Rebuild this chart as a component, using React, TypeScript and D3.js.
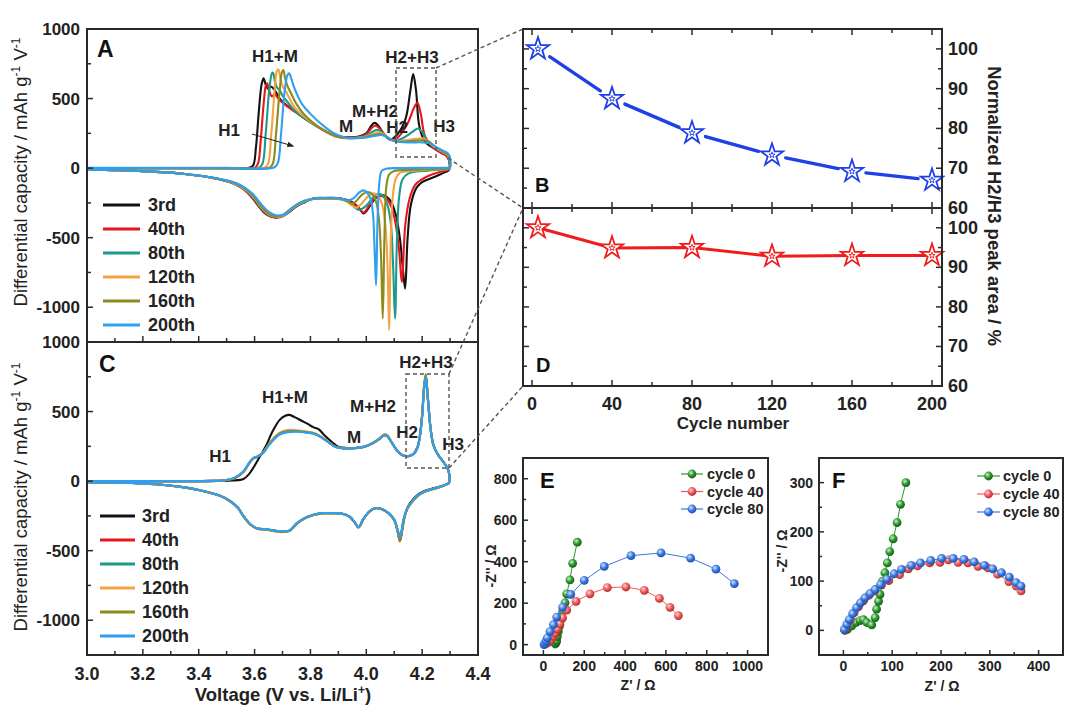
import React from "react";
import * as d3 from "d3";

type P = [number, number];
const FONT = "'Liberation Sans', Arial, Helvetica, sans-serif";
const INK = "#222";
const FRAME = "#2a2a2a";

// ================= Panels A & C : dQ/dV =================
const CYCLE_NAMES = ["3rd", "40th", "80th", "120th", "160th", "200th"];
const CYCLE_COLORS = ["#121212", "#e8161c", "#1b9a8b", "#f5a243", "#8b8b1e", "#2e9ff3"];
const VOLT_TICKS = [3.0, 3.2, 3.4, 3.6, 3.8, 4.0, 4.2, 4.4];
const VOLT_MINOR = [3.1, 3.3, 3.5, 3.7, 3.9, 4.1, 4.3];
const DQDV_TICKS = [1000, 500, 0, -500, -1000];
const DQDV_MINOR = [750, 250, -250, -750];

// ---- Panel A (charge = upper branch, discharge = lower branch) ----
const A_CHG_3RD: P[] = [[3.0,0],[3.3,0],[3.5,0],[3.58,2],[3.595,20],[3.605,150],[3.615,400],[3.625,600],[3.632,645],[3.64,600],[3.648,570],[3.66,585],[3.672,560],[3.69,500],[3.71,460],[3.75,400],[3.8,330],[3.85,270],[3.89,232],[3.93,222],[3.97,225],[4.0,250],[4.02,310],[4.03,325],[4.045,300],[4.065,240],[4.085,205],[4.11,240],[4.14,350],[4.158,560],[4.168,676],[4.178,560],[4.19,300],[4.21,190],[4.24,145],[4.27,110],[4.29,85],[4.297,50],[4.298,0]];
const A_DIS_3RD: P[] = [[4.295,-15],[4.27,-40],[4.23,-75],[4.2,-100],[4.18,-140],[4.16,-260],[4.148,-500],[4.139,-866],[4.13,-700],[4.12,-500],[4.105,-330],[4.085,-230],[4.06,-195],[4.04,-205],[4.02,-250],[4.0,-310],[3.99,-326],[3.975,-290],[3.95,-245],[3.91,-218],[3.86,-215],[3.81,-218],[3.78,-245],[3.75,-275],[3.72,-320],[3.69,-350],[3.665,-352],[3.64,-330],[3.615,-275],[3.59,-210],[3.56,-150],[3.51,-100],[3.45,-70],[3.35,-42],[3.2,-22],[3.0,-10]];
const A_CHG_40TH: P[] = [[3.0,0],[3.3,0],[3.5,0],[3.6,2],[3.612,30],[3.622,200],[3.632,450],[3.64,590],[3.645,609],[3.652,560],[3.662,515],[3.672,530],[3.685,500],[3.7,470],[3.72,440],[3.75,398],[3.8,328],[3.85,268],[3.89,230],[3.93,220],[3.97,222],[4.0,245],[4.02,290],[4.032,305],[4.048,285],[4.07,230],[4.095,200],[4.12,235],[4.15,330],[4.17,430],[4.183,470],[4.195,390],[4.21,230],[4.235,155],[4.26,118],[4.285,90],[4.297,55],[4.298,0]];
const A_DIS_40TH: P[] = [[4.295,-10],[4.26,-30],[4.23,-50],[4.2,-80],[4.175,-120],[4.155,-220],[4.14,-400],[4.127,-818],[4.118,-600],[4.105,-400],[4.09,-280],[4.07,-215],[4.05,-200],[4.03,-215],[4.01,-270],[3.99,-320],[3.975,-295],[3.95,-250],[3.91,-222],[3.86,-218],[3.81,-220],[3.78,-240],[3.75,-272],[3.72,-322],[3.695,-352],[3.67,-355],[3.645,-335],[3.62,-285],[3.595,-220],[3.565,-158],[3.52,-105],[3.45,-70],[3.35,-42],[3.2,-22],[3.0,-10]];
const A_CHG_80TH: P[] = [[3.0,0],[3.3,0],[3.5,0],[3.615,2],[3.628,30],[3.64,250],[3.652,550],[3.662,680],[3.666,686],[3.672,630],[3.68,580],[3.69,560],[3.7,520],[3.72,470],[3.75,400],[3.8,330],[3.85,268],[3.89,228],[3.93,218],[3.97,220],[4.0,235],[4.025,265],[4.04,275],[4.055,260],[4.075,220],[4.1,195],[4.13,215],[4.165,260],[4.185,285],[4.2,260],[4.22,190],[4.25,145],[4.275,115],[4.292,90],[4.298,55],[4.299,0]];
const A_DIS_80TH: P[] = [[4.297,-5],[4.26,-12],[4.22,-18],[4.18,-25],[4.15,-40],[4.13,-80],[4.118,-200],[4.11,-500],[4.103,-1081],[4.096,-700],[4.088,-400],[4.075,-260],[4.06,-200],[4.045,-185],[4.025,-210],[4.0,-270],[3.975,-300],[3.96,-285],[3.94,-248],[3.91,-225],[3.86,-218],[3.81,-222],[3.78,-242],[3.75,-270],[3.72,-318],[3.7,-345],[3.675,-350],[3.65,-335],[3.625,-290],[3.6,-225],[3.57,-160],[3.52,-105],[3.45,-70],[3.35,-42],[3.2,-22],[3.0,-10]];
const A_CHG_120TH: P[] = [[3.0,0],[3.3,0],[3.5,0],[3.635,2],[3.648,30],[3.66,250],[3.672,560],[3.68,700],[3.685,710],[3.692,650],[3.7,590],[3.71,560],[3.725,500],[3.75,420],[3.8,335],[3.85,270],[3.89,228],[3.93,216],[3.97,218],[4.0,228],[4.03,250],[4.045,258],[4.06,245],[4.08,215],[4.105,192],[4.14,200],[4.18,210],[4.205,213],[4.22,195],[4.245,150],[4.27,120],[4.29,95],[4.298,60],[4.299,0]];
const A_DIS_120TH: P[] = [[4.297,-5],[4.25,-10],[4.2,-15],[4.15,-22],[4.12,-35],[4.105,-80],[4.095,-200],[4.088,-500],[4.082,-1165],[4.076,-700],[4.068,-400],[4.055,-250],[4.04,-195],[4.025,-182],[4.005,-205],[3.985,-250],[3.965,-285],[3.95,-270],[3.93,-240],[3.9,-222],[3.86,-216],[3.81,-220],[3.78,-238],[3.75,-268],[3.72,-315],[3.7,-342],[3.68,-350],[3.655,-338],[3.63,-295],[3.605,-230],[3.575,-165],[3.52,-104],[3.45,-70],[3.35,-42],[3.2,-22],[3.0,-10]];
const A_CHG_160TH: P[] = [[3.0,0],[3.3,0],[3.5,0],[3.652,2],[3.665,30],[3.677,250],[3.69,560],[3.698,690],[3.703,705],[3.71,640],[3.718,590],[3.73,540],[3.75,460],[3.78,380],[3.82,310],[3.86,258],[3.9,224],[3.93,215],[3.97,216],[4.0,224],[4.035,242],[4.05,245],[4.065,235],[4.085,210],[4.11,190],[4.15,192],[4.19,198],[4.21,200],[4.225,190],[4.25,150],[4.275,118],[4.292,95],[4.298,60],[4.299,0]];
const A_DIS_160TH: P[] = [[4.297,-5],[4.25,-8],[4.2,-10],[4.15,-14],[4.1,-20],[4.082,-45],[4.072,-130],[4.065,-500],[4.059,-1081],[4.053,-650],[4.046,-380],[4.035,-240],[4.02,-185],[4.005,-172],[3.985,-190],[3.965,-235],[3.95,-255],[3.935,-240],[3.91,-222],[3.87,-215],[3.82,-218],[3.78,-235],[3.75,-262],[3.72,-308],[3.7,-338],[3.68,-347],[3.66,-340],[3.635,-300],[3.61,-238],[3.58,-170],[3.53,-108],[3.45,-70],[3.35,-42],[3.2,-22],[3.0,-10]];
const A_CHG_200TH: P[] = [[3.0,2],[3.3,2],[3.5,3],[3.67,4],[3.683,35],[3.695,250],[3.708,560],[3.718,670],[3.724,681],[3.732,640],[3.74,590],[3.75,540],[3.77,460],[3.8,390],[3.84,315],[3.88,255],[3.92,222],[3.96,215],[4.0,220],[4.04,235],[4.055,238],[4.07,228],[4.09,205],[4.12,188],[4.16,185],[4.2,185],[4.225,178],[4.25,150],[4.275,125],[4.29,110],[4.3,80],[4.302,30],[4.3,3]];
const A_DIS_200TH: P[] = [[4.29,2],[4.2,2],[4.12,0],[4.07,-5],[4.055,-20],[4.047,-100],[4.04,-400],[4.035,-842],[4.03,-600],[4.024,-330],[4.015,-220],[4.0,-170],[3.99,-160],[3.975,-175],[3.955,-215],[3.935,-232],[3.915,-222],[3.88,-212],[3.83,-215],[3.79,-228],[3.76,-252],[3.73,-295],[3.71,-330],[3.69,-340],[3.67,-335],[3.645,-305],[3.62,-250],[3.59,-180],[3.54,-112],[3.46,-72],[3.35,-42],[3.2,-22],[3.0,-10]];

// ---- Panel C ----
const C_CHG_3RD: P[] = [[3.0,0],[3.3,0],[3.45,0],[3.52,4],[3.56,15],[3.58,50],[3.6,110],[3.62,180],[3.64,250],[3.665,360],[3.69,440],[3.71,470],[3.725,476],[3.745,458],[3.77,432],[3.79,412],[3.81,388],[3.83,372],[3.85,330],[3.875,285],[3.9,247],[3.93,238],[3.96,238],[3.99,246],[4.02,268],[4.045,300],[4.065,330],[4.075,324],[4.09,280],[4.11,220],[4.13,186],[4.15,179],[4.17,196],[4.185,252],[4.198,425],[4.207,665],[4.213,752],[4.22,600],[4.23,380],[4.24,262],[4.255,196],[4.275,142],[4.29,96],[4.297,50],[4.298,0]];
const C_DIS_3RD: P[] = [[4.295,-15],[4.285,-24],[4.265,-38],[4.24,-52],[4.215,-66],[4.19,-90],[4.168,-130],[4.15,-180],[4.138,-250],[4.128,-360],[4.122,-420],[4.114,-365],[4.1,-278],[4.08,-232],[4.055,-200],[4.03,-195],[4.01,-220],[3.99,-272],[3.972,-332],[3.96,-300],[3.94,-255],[3.91,-233],[3.87,-231],[3.84,-230],[3.81,-243],[3.78,-266],[3.75,-306],[3.725,-356],[3.7,-362],[3.67,-356],[3.64,-346],[3.61,-340],[3.585,-312],[3.56,-252],[3.54,-190],[3.51,-140],[3.48,-108],[3.43,-78],[3.35,-45],[3.25,-22],[3.1,-10],[3.0,-7]];
const C_CHG_40TH: P[] = [[3.0,0],[3.3,0],[3.45,2],[3.5,7],[3.53,22],[3.56,65],[3.58,125],[3.595,162],[3.61,175],[3.63,205],[3.65,262],[3.67,310],[3.69,345],[3.72,365],[3.75,362],[3.78,356],[3.81,345],[3.83,328],[3.86,288],[3.89,247],[3.92,236],[3.96,238],[3.99,246],[4.02,270],[4.045,303],[4.065,334],[4.075,328],[4.09,282],[4.11,222],[4.13,186],[4.15,180],[4.17,198],[4.185,255],[4.198,430],[4.207,680],[4.213,762],[4.22,610],[4.23,385],[4.24,262],[4.255,196],[4.275,140],[4.29,95],[4.297,50],[4.298,0]];
const C_DIS_40TH: P[] = [[4.295,-15],[4.285,-25],[4.265,-42],[4.24,-57],[4.215,-72],[4.19,-98],[4.168,-140],[4.148,-195],[4.135,-270],[4.125,-390],[4.12,-432],[4.112,-362],[4.1,-280],[4.08,-232],[4.055,-202],[4.03,-196],[4.01,-222],[3.99,-272],[3.972,-334],[3.96,-302],[3.94,-256],[3.91,-233],[3.87,-231],[3.84,-232],[3.81,-244],[3.78,-268],[3.75,-308],[3.725,-358],[3.7,-366],[3.67,-358],[3.64,-348],[3.61,-342],[3.585,-312],[3.56,-252],[3.54,-192],[3.51,-142],[3.48,-109],[3.43,-78],[3.35,-45],[3.25,-22],[3.1,-10],[3.0,-7]];
const C_CHG_80TH: P[] = [[3.0,0],[3.3,0],[3.45,2],[3.5,8],[3.53,24],[3.56,68],[3.58,128],[3.595,164],[3.61,176],[3.63,203],[3.65,258],[3.67,305],[3.69,340],[3.72,358],[3.75,358],[3.78,352],[3.81,343],[3.83,326],[3.86,286],[3.89,246],[3.92,235],[3.96,237],[3.99,245],[4.02,269],[4.045,301],[4.065,332],[4.075,326],[4.09,281],[4.11,221],[4.13,185],[4.15,179],[4.17,196],[4.185,252],[4.198,425],[4.207,670],[4.213,756],[4.22,605],[4.23,382],[4.24,261],[4.255,195],[4.275,140],[4.29,95],[4.297,50],[4.298,0]];
const C_DIS_80TH: P[] = [[4.295,-15],[4.285,-25],[4.265,-41],[4.24,-56],[4.215,-71],[4.19,-96],[4.168,-138],[4.148,-192],[4.135,-265],[4.125,-380],[4.12,-418],[4.112,-356],[4.1,-278],[4.08,-231],[4.055,-201],[4.03,-195],[4.01,-221],[3.99,-271],[3.972,-332],[3.96,-301],[3.94,-255],[3.91,-232],[3.87,-230],[3.84,-231],[3.81,-243],[3.78,-266],[3.75,-306],[3.725,-356],[3.7,-364],[3.67,-356],[3.64,-346],[3.61,-341],[3.585,-311],[3.56,-251],[3.54,-191],[3.51,-141],[3.48,-108],[3.43,-78],[3.35,-45],[3.25,-22],[3.1,-10],[3.0,-7]];
const C_CHG_120TH: P[] = [[3.0,0],[3.3,0],[3.45,2],[3.5,8],[3.53,25],[3.56,69],[3.58,129],[3.595,165],[3.61,178],[3.63,206],[3.65,264],[3.67,312],[3.69,348],[3.72,368],[3.75,365],[3.78,358],[3.81,347],[3.83,330],[3.86,289],[3.89,248],[3.92,236],[3.96,238],[3.99,247],[4.02,271],[4.045,305],[4.065,336],[4.075,330],[4.09,283],[4.11,222],[4.13,186],[4.15,179],[4.17,197],[4.185,254],[4.198,428],[4.207,675],[4.213,758],[4.22,608],[4.23,384],[4.24,262],[4.255,196],[4.275,141],[4.29,95],[4.297,50],[4.298,0]];
const C_DIS_120TH: P[] = [[4.295,-15],[4.285,-25],[4.265,-41],[4.24,-56],[4.215,-71],[4.19,-97],[4.168,-139],[4.148,-193],[4.135,-268],[4.125,-385],[4.12,-424],[4.112,-358],[4.1,-279],[4.08,-232],[4.055,-202],[4.03,-196],[4.01,-222],[3.99,-272],[3.972,-333],[3.96,-302],[3.94,-256],[3.91,-233],[3.87,-231],[3.84,-232],[3.81,-244],[3.78,-268],[3.75,-308],[3.725,-358],[3.7,-368],[3.67,-360],[3.64,-350],[3.61,-343],[3.585,-313],[3.56,-252],[3.54,-192],[3.51,-142],[3.48,-109],[3.43,-78],[3.35,-45],[3.25,-22],[3.1,-10],[3.0,-7]];
const C_CHG_160TH: P[] = [[3.0,0],[3.3,0],[3.45,2],[3.5,8],[3.53,24],[3.56,67],[3.58,127],[3.595,163],[3.61,176],[3.63,204],[3.65,260],[3.67,307],[3.69,342],[3.72,360],[3.75,360],[3.78,354],[3.81,344],[3.83,327],[3.86,287],[3.89,246],[3.92,235],[3.96,237],[3.99,246],[4.02,270],[4.045,302],[4.065,333],[4.075,327],[4.09,282],[4.11,221],[4.13,185],[4.15,179],[4.17,197],[4.185,256],[4.198,435],[4.207,690],[4.213,770],[4.22,615],[4.23,386],[4.24,262],[4.255,195],[4.275,140],[4.29,95],[4.297,50],[4.298,0]];
const C_DIS_160TH: P[] = [[4.295,-15],[4.285,-25],[4.265,-41],[4.24,-56],[4.215,-71],[4.19,-97],[4.168,-139],[4.148,-194],[4.135,-268],[4.125,-388],[4.12,-426],[4.112,-359],[4.1,-279],[4.08,-232],[4.055,-202],[4.03,-196],[4.01,-222],[3.99,-272],[3.972,-333],[3.96,-302],[3.94,-256],[3.91,-233],[3.87,-231],[3.84,-232],[3.81,-244],[3.78,-267],[3.75,-307],[3.725,-357],[3.7,-366],[3.67,-358],[3.64,-348],[3.61,-342],[3.585,-312],[3.56,-252],[3.54,-191],[3.51,-141],[3.48,-108],[3.43,-78],[3.35,-45],[3.25,-22],[3.1,-10],[3.0,-7]];
const C_CHG_200TH: P[] = [[3.0,0],[3.3,0],[3.45,2],[3.5,8],[3.53,25],[3.56,70],[3.58,130],[3.595,165],[3.61,175],[3.63,200],[3.65,255],[3.67,300],[3.69,335],[3.72,352],[3.75,355],[3.78,350],[3.81,342],[3.83,325],[3.86,285],[3.89,245],[3.92,235],[3.96,237],[3.99,245],[4.02,268],[4.045,300],[4.065,330],[4.075,325],[4.09,280],[4.11,220],[4.13,185],[4.15,178],[4.17,195],[4.185,250],[4.198,420],[4.207,660],[4.213,750],[4.22,600],[4.23,380],[4.24,260],[4.255,195],[4.275,140],[4.29,95],[4.297,50],[4.298,0]];
const C_DIS_200TH: P[] = [[4.295,-15],[4.285,-25],[4.265,-40],[4.24,-55],[4.215,-70],[4.19,-95],[4.168,-137],[4.148,-190],[4.135,-260],[4.125,-370],[4.12,-405],[4.112,-350],[4.1,-275],[4.08,-230],[4.055,-200],[4.03,-195],[4.01,-220],[3.99,-270],[3.972,-330],[3.96,-300],[3.94,-255],[3.91,-232],[3.87,-230],[3.84,-230],[3.81,-242],[3.78,-265],[3.75,-305],[3.725,-355],[3.7,-362],[3.67,-355],[3.64,-345],[3.61,-340],[3.585,-310],[3.56,-250],[3.54,-190],[3.51,-140],[3.48,-108],[3.43,-78],[3.35,-45],[3.25,-22],[3.1,-10],[3.0,-7]];

const A_CHARGE = [A_CHG_3RD, A_CHG_40TH, A_CHG_80TH, A_CHG_120TH, A_CHG_160TH, A_CHG_200TH];
const A_DISCHARGE = [A_DIS_3RD, A_DIS_40TH, A_DIS_80TH, A_DIS_120TH, A_DIS_160TH, A_DIS_200TH];
const C_CHARGE = [C_CHG_3RD, C_CHG_40TH, C_CHG_80TH, C_CHG_120TH, C_CHG_160TH, C_CHG_200TH];
const C_DISCHARGE = [C_DIS_3RD, C_DIS_40TH, C_DIS_80TH, C_DIS_120TH, C_DIS_160TH, C_DIS_200TH];

// ================= Panels B & D =================
const CYCLE_NUMBERS = [3, 40, 80, 120, 160, 200];
const B_PEAK_AREA = [100, 87.5, 78.9, 73.3, 69.2, 67.0];
const D_PEAK_AREA = [100, 94.9, 95.0, 92.8, 93.0, 93.0];
const CYCLE_TICKS = [0, 40, 80, 120, 160, 200];
const CYCLE_MINOR = [20, 60, 100, 140, 180];
const PCT_TICKS = [60, 70, 80, 90, 100];
const PCT_MINOR = [65, 75, 85, 95, 105];

// ================= Panels E & F : Nyquist =================
const EIS_NAMES = ["cycle 0", "cycle 40", "cycle 80"];
const EIS_COLORS = ["#2d962d", "#ee5a5a", "#3a78e0"];
const E_CYCLE0: P[] = [[58,3],[62,10],[65,18],[68,39],[73,63],[78,88],[85,120],[94,161],[106,202],[114,245],[130,312],[143,392],[166,494]];
const E_CYCLE40: P[] = [[10,3],[20,8],[35,20],[49,40],[57,55],[68,75],[81,100],[94,129],[114,166],[160,209],[228,245],[313,275],[404,278],[494,262],[568,223],[620,180],[661,140]];
const E_CYCLE80: P[] = [[3,0],[8,7],[13,18],[19,33],[32,63],[49,96],[65,133],[94,180],[134,242],[200,310],[298,377],[429,429],[576,442],[721,417],[845,364],[935,294]];
const F_CYCLE0: P[] = [[3,0],[8,2],[17,9],[26,16],[34,20],[41,22],[48,16],[58,11],[65,26],[68,43],[72,59],[75,73],[80,100],[85,117],[90,137],[95,160],[102,186],[110,219],[117,256],[128,300]];
const F_CYCLE40: P[] = [[3,1],[8,10],[14,22],[22,36],[31,48],[41,60],[52,71],[64,80],[78,92],[93,101],[115,113],[133,125],[152,131],[177,137],[198,138],[215,143],[235,138],[255,137],[276,130],[296,127],[316,114],[339,99],[354,90],[364,80]];
const F_CYCLE80: P[] = [[2,2],[7,12],[12,22],[19,34],[27,46],[35,56],[44,66],[55,75],[65,83],[76,93],[89,104],[104,115],[119,124],[139,132],[158,137],[179,142],[201,146],[225,146],[247,144],[268,139],[289,132],[306,125],[324,117],[340,108],[354,97],[364,90]];
const E_X_TICKS = [0, 200, 400, 600, 800, 1000];
const E_X_MINOR = [100, 300, 500, 700, 900];
const E_Y_TICKS = [0, 200, 400, 600, 800];
const E_Y_MINOR = [100, 300, 500, 700];
const F_X_TICKS = [0, 100, 200, 300, 400];
const F_X_MINOR = [50, 150, 250, 350];
const F_Y_TICKS = [0, 100, 200, 300];
const F_Y_MINOR = [50, 150, 250];

// ---------------------------------------------------------
function DqdvPanel(props: any) {
  const { id, top, bottom, charge, discharge, letter, letterPos, legend, notes, box, xLabels, yLabelY } = props;
  const x = d3.scaleLinear().domain([3.0, 4.4]).range([87, 478]);
  const y = d3.scaleLinear().domain([-1250, 1000]).range([bottom, top]);
  const line = d3.line<P>().x(d => x(d[0])).y(d => y(d[1])).curve(d3.curveCatmullRom.alpha(0.5));
  return (
    <g>
      <clipPath id={id}><rect x={87} y={top} width={391} height={bottom - top} /></clipPath>
      <g clipPath={`url(#${id})`}>
        {charge.map((c: P[], i: number) => (
          <path key={i} d={line(c.concat(discharge[i])) || ""} fill="none" stroke={CYCLE_COLORS[i]} strokeWidth={2.1} strokeLinejoin="round" />
        ))}
      </g>
      <rect x={87} y={top} width={391} height={bottom - top} fill="none" stroke={FRAME} strokeWidth={2} />
      {DQDV_TICKS.map(t => (
        <g key={t}>
          <line x1={87} x2={93} y1={y(t)} y2={y(t)} stroke={FRAME} strokeWidth={1.5} />
          <text x={80} y={y(t) + 6} textAnchor="end" fontSize={17} fontWeight="bold" fill={INK}>{t}</text>
        </g>
      ))}
      {DQDV_MINOR.map(t => <line key={t} x1={87} x2={91} y1={y(t)} y2={y(t)} stroke={FRAME} strokeWidth={1.5} />)}
      {VOLT_TICKS.map(t => <line key={t} x1={x(t)} x2={x(t)} y1={bottom} y2={bottom - 6} stroke={FRAME} strokeWidth={1.5} />)}
      {VOLT_MINOR.map(t => <line key={t} x1={x(t)} x2={x(t)} y1={bottom} y2={bottom - 4} stroke={FRAME} strokeWidth={1.5} />)}
      {xLabels && VOLT_TICKS.map(t => (
        <text key={t} x={x(t)} y={bottom + 25} textAnchor="middle" fontSize={18} fontWeight="bold" fill={INK}>{t.toFixed(1)}</text>
      ))}
      <text transform={`translate(27,${yLabelY}) rotate(-90)`} textAnchor="middle" fontSize={18.5} fill={INK}>
        Differential capacity / mAh g<tspan dy={-7} fontSize={12}>-1</tspan><tspan dy={7}> V</tspan><tspan dy={-7} fontSize={12}>-1</tspan>
      </text>
      <text x={letterPos[0]} y={letterPos[1]} fontSize={23} fontWeight="bold" fill="#111">{letter}</text>
      {CYCLE_NAMES.map((n, i) => (
        <g key={n}>
          <line x1={legend.x1} x2={legend.x2} y1={legend.y + i * 24} y2={legend.y + i * 24} stroke={CYCLE_COLORS[i]} strokeWidth={2.8} />
          <text x={legend.tx} y={legend.y + i * 24 + 6} fontSize={18} fontWeight="bold" fill={INK}>{n}</text>
        </g>
      ))}
      {notes.map((n: any, i: number) => (
        <text key={i} x={n[1]} y={n[2]} textAnchor="middle" fontSize={17} fontWeight="bold" fill={INK}>{n[0]}</text>
      ))}
      <rect x={box[0]} y={box[1]} width={box[2] - box[0]} height={box[3] - box[1]} fill="none" stroke="#555" strokeWidth={1.4} strokeDasharray="4,3" />
    </g>
  );
}

function Star({ cx, cy, color }: any) {
  const outer = d3.symbol().type(d3.symbolStar).size(240)() || "";
  const inner = d3.symbol().type(d3.symbolStar).size(90)() || "";
  const tiny = d3.symbol().type(d3.symbolStar).size(12)() || "";
  return (
    <g transform={`translate(${cx},${cy})`}>
      <path d={outer} fill={color} />
      <path d={inner} fill="#fff" />
      <path d={tiny} fill="none" stroke={color} strokeWidth={0.9} />
    </g>
  );
}

function RatioPanels() {
  const L = 523, R = 942, T = 29, M = 208, B = 386;
  const x = d3.scaleLinear().domain([-4.5, 205]).range([L, R]);
  const yB = d3.scaleLinear().domain([60, 105]).range([M, T]);
  const yD = d3.scaleLinear().domain([60, 105]).range([B, M]);
  const bPts = CYCLE_NUMBERS.map((c, i) => [x(c), yB(B_PEAK_AREA[i])]);
  const dPts = CYCLE_NUMBERS.map((c, i) => [x(c), yD(D_PEAK_AREA[i])] as P);
  const gap = 14;
  const segs = bPts.slice(1).map((p, i) => {
    const q = bPts[i];
    const dx = p[0] - q[0], dy = p[1] - q[1];
    const len = Math.hypot(dx, dy);
    const ux = dx / len, uy = dy / len;
    return [q[0] + ux * gap, q[1] + uy * gap, p[0] - ux * gap, p[1] - uy * gap];
  });
  const dLine = d3.line<P>().x(d => d[0]).y(d => d[1]);
  const yTicks = (ys: any, key: string) => (
    <g key={key}>
      {PCT_TICKS.map(t => (
        <g key={t}>
          <line x1={L} x2={L + 6} y1={ys(t)} y2={ys(t)} stroke={FRAME} strokeWidth={1.5} />
          <line x1={R} x2={R - 6} y1={ys(t)} y2={ys(t)} stroke={FRAME} strokeWidth={1.5} />
          <text x={948} y={ys(t) + 6} fontSize={18} fontWeight="bold" fill={INK}>{t}</text>
        </g>
      ))}
      {PCT_MINOR.map(t => (
        <g key={t}>
          <line x1={L} x2={L + 4} y1={ys(t)} y2={ys(t)} stroke={FRAME} strokeWidth={1.5} />
          <line x1={R} x2={R - 4} y1={ys(t)} y2={ys(t)} stroke={FRAME} strokeWidth={1.5} />
        </g>
      ))}
    </g>
  );
  return (
    <g>
      {segs.map((s, i) => (
        <line key={i} x1={s[0]} y1={s[1]} x2={s[2]} y2={s[3]} stroke="#1f3fe8" strokeWidth={3.4} strokeLinecap="round" />
      ))}
      <path d={dLine(dPts) || ""} fill="none" stroke="#f01c1c" strokeWidth={3} />
      {bPts.map((p, i) => <Star key={i} cx={p[0]} cy={p[1]} color="#1f3fe8" />)}
      {dPts.map((p, i) => <Star key={i} cx={p[0]} cy={p[1]} color="#f01c1c" />)}
      <rect x={L} y={T} width={R - L} height={B - T} fill="none" stroke={FRAME} strokeWidth={2} />
      <line x1={L} x2={R} y1={M} y2={M} stroke={FRAME} strokeWidth={2} />
      {yTicks(yB, "b")}
      {yTicks(yD, "d")}
      {CYCLE_TICKS.map(t => (
        <g key={t}>
          <line x1={x(t)} x2={x(t)} y1={T} y2={T + 6} stroke={FRAME} strokeWidth={1.5} />
          <line x1={x(t)} x2={x(t)} y1={M - 6} y2={M + 6} stroke={FRAME} strokeWidth={1.5} />
          <line x1={x(t)} x2={x(t)} y1={B} y2={B - 6} stroke={FRAME} strokeWidth={1.5} />
          <text x={x(t)} y={410} textAnchor="middle" fontSize={18} fontWeight="bold" fill={INK}>{t}</text>
        </g>
      ))}
      {CYCLE_MINOR.map(t => (
        <g key={t}>
          <line x1={x(t)} x2={x(t)} y1={T} y2={T + 4} stroke={FRAME} strokeWidth={1.5} />
          <line x1={x(t)} x2={x(t)} y1={M - 4} y2={M + 4} stroke={FRAME} strokeWidth={1.5} />
          <line x1={x(t)} x2={x(t)} y1={B} y2={B - 4} stroke={FRAME} strokeWidth={1.5} />
        </g>
      ))}
      <text x={733} y={429} textAnchor="middle" fontSize={17} fontWeight="bold" fill={INK}>Cycle number</text>
      <text transform="translate(988,206) rotate(90)" textAnchor="middle" fontSize={18.5} fontWeight="bold" fill={INK}>Normalized H2/H3 peak area / %</text>
      <text x={535} y={192} fontSize={20} fontWeight="bold" fill="#111">B</text>
      <text x={536} y={372} fontSize={20} fontWeight="bold" fill="#111">D</text>
    </g>
  );
}

function NyquistPanel(props: any) {
  const { frame, xDomain, yDomain, xTicks, xMinor, yTicks, yMinor, series, legend, letter, letterPos, yLab, xLab } = props;
  const [L, R, T, B] = frame;
  const x = d3.scaleLinear().domain(xDomain).range([L, R]);
  const y = d3.scaleLinear().domain(yDomain).range([B, T]);
  const line = d3.line<P>().x(d => x(d[0])).y(d => y(d[1]));
  return (
    <g>
      {series.map((s: P[], i: number) => (
        <g key={i}>
          <path d={line(s) || ""} fill="none" stroke={EIS_COLORS[i]} strokeWidth={1} />
          {s.map((p, j) => <circle key={j} cx={x(p[0])} cy={y(p[1])} r={4.4} fill={`url(#sph${i})`} />)}
        </g>
      ))}
      <rect x={L} y={T} width={R - L} height={B - T} fill="none" stroke={FRAME} strokeWidth={2} />
      {xTicks.map((t: number) => (
        <g key={t}>
          <line x1={x(t)} x2={x(t)} y1={B} y2={B - 5} stroke={FRAME} strokeWidth={1.5} />
          <text x={x(t)} y={B + 16} textAnchor="middle" fontSize={14} fontWeight="bold" fill={INK}>{t}</text>
        </g>
      ))}
      {xMinor.map((t: number) => <line key={t} x1={x(t)} x2={x(t)} y1={B} y2={B - 3} stroke={FRAME} strokeWidth={1.5} />)}
      {yTicks.map((t: number) => (
        <g key={t}>
          <line x1={L} x2={L + 5} y1={y(t)} y2={y(t)} stroke={FRAME} strokeWidth={1.5} />
          <text x={L - 6} y={y(t) + 5} textAnchor="end" fontSize={14} fontWeight="bold" fill={INK}>{t}</text>
        </g>
      ))}
      {yMinor.map((t: number) => <line key={t} x1={L} x2={L + 3} y1={y(t)} y2={y(t)} stroke={FRAME} strokeWidth={1.5} />)}
      <text x={xLab[0]} y={xLab[1]} textAnchor="middle" fontSize={14} fontWeight="bold" fill={INK}>Z' / Ω</text>
      <text transform={`translate(${yLab[0]},${yLab[1]}) rotate(-90)`} textAnchor="middle" fontSize={14} fontWeight="bold" fill={INK}>-Z'' / Ω</text>
      <text x={letterPos[0]} y={letterPos[1]} fontSize={22} fontWeight="bold" fill="#111">{letter}</text>
      {EIS_NAMES.map((n, i) => (
        <g key={n}>
          <line x1={legend.x1} x2={legend.x2} y1={legend.y + i * legend.dy} y2={legend.y + i * legend.dy} stroke={EIS_COLORS[i]} strokeWidth={1.2} />
          <circle cx={(legend.x1 + legend.x2) / 2} cy={legend.y + i * legend.dy} r={4.4} fill={`url(#sph${i})`} />
          <text x={legend.tx} y={legend.y + i * legend.dy + 5} fontSize={14.5} fontWeight="bold" fill={INK}>{n}</text>
        </g>
      ))}
    </g>
  );
}

export default function App() {
  const sphereStops = [
    ["#c9f2c9", "#2d962d", "#17601a"],
    ["#ffd4d4", "#ee5a5a", "#b23030"],
    ["#d2e4ff", "#3a78e0", "#1f4fa8"],
  ];
  return (
    <svg width={1080} height={711} viewBox="0 0 1080 711" style={{ position: "absolute", left: 0, top: 0, background: "#fff" }} fontFamily={FONT}>
      <defs>
        {sphereStops.map((s, i) => (
          <radialGradient key={i} id={`sph${i}`} cx="38%" cy="35%" r="65%">
            <stop offset="0" stopColor={s[0]} />
            <stop offset="0.55" stopColor={s[1]} />
            <stop offset="1" stopColor={s[2]} />
          </radialGradient>
        ))}
        <marker id="arrowhead" viewBox="0 0 10 10" refX="8" refY="5" markerWidth="7" markerHeight="7" orient="auto">
          <path d="M0,1 L10,5 L0,9 z" fill="#222" />
        </marker>
      </defs>
      <rect x={0} y={0} width={1080} height={711} fill="#fff" />

      <DqdvPanel
        id="clipA" top={29} bottom={342} charge={A_CHARGE} discharge={A_DISCHARGE}
        letter="A" letterPos={[97, 57]} xLabels={false} yLabelY={172}
        legend={{ x1: 103, x2: 140, tx: 148, y: 205 }}
        notes={[["H1+M", 275, 62], ["H2+H3", 412, 63], ["M+H2", 375, 117], ["M", 346, 132], ["H2", 397, 133], ["H3", 444, 132], ["H1", 229, 136]]}
        box={[396, 68, 436, 157]}
      />
      <line x1={252} y1={134} x2={293} y2={146} stroke="#222" strokeWidth={1} markerEnd="url(#arrowhead)" />
      <DqdvPanel
        id="clipC" top={342} bottom={655} charge={C_CHARGE} discharge={C_DISCHARGE}
        letter="C" letterPos={[99, 372]} xLabels={true} yLabelY={497}
        legend={{ x1: 100, x2: 135, tx: 142, y: 516 }}
        notes={[["H2+H3", 426, 368], ["H1+M", 285, 403], ["M+H2", 373, 412], ["M", 354, 443], ["H2", 407, 438], ["H3", 453, 450], ["H1", 220, 462]]}
        box={[406, 374, 449, 468]}
      />
      <text x={283} y={701} textAnchor="middle" fontSize={18.5} fontWeight="bold" fill={INK}>
        Voltage (V vs. Li/Li<tspan dy={-7} fontSize={12}>+</tspan><tspan dy={7}>)</tspan>
      </text>

      <RatioPanels />

      <g stroke="#555" strokeWidth={1.4} strokeDasharray="4,3" fill="none">
        <line x1={436} y1={68} x2={523} y2={29} />
        <line x1={448} y1={158} x2={523} y2={208} />
        <line x1={449} y1={374} x2={523} y2={208} />
        <line x1={449} y1={468} x2={523} y2={386} />
      </g>

      <NyquistPanel
        frame={[523, 768, 458, 655]} xDomain={[-100, 1100]} yDomain={[-50, 900]}
        xTicks={E_X_TICKS} xMinor={E_X_MINOR} yTicks={E_Y_TICKS} yMinor={E_Y_MINOR}
        series={[E_CYCLE0, E_CYCLE40, E_CYCLE80]}
        legend={{ x1: 681, x2: 703, tx: 707, y: 474, dy: 17.5 }}
        letter="E" letterPos={[540, 488]} yLab={[496, 566]} xLab={[638, 690]}
      />
      <NyquistPanel
        frame={[819, 1063, 458, 655]} xDomain={[-50, 450]} yDomain={[-50, 350]}
        xTicks={F_X_TICKS} xMinor={F_X_MINOR} yTicks={F_Y_TICKS} yMinor={F_Y_MINOR}
        series={[F_CYCLE0, F_CYCLE40, F_CYCLE80]}
        legend={{ x1: 977, x2: 1000, tx: 1003, y: 476, dy: 18 }}
        letter="F" letterPos={[832, 488]} yLab={[787, 551]} xLab={[942, 691]}
      />
    </svg>
  );
}
